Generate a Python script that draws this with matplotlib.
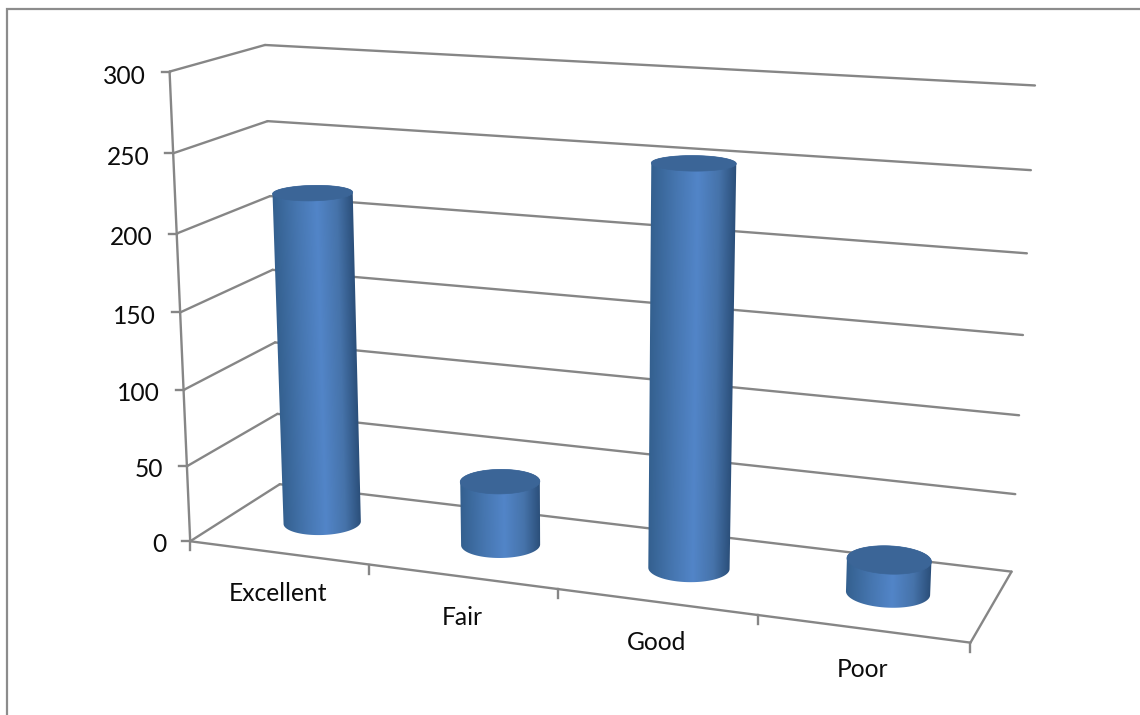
import numpy as np
import matplotlib
matplotlib.use("Agg")
import matplotlib.pyplot as plt
from matplotlib.colors import to_rgb
from matplotlib.patches import Polygon

categories = ["Excellent", "Fair", "Good", "Poor"]
values = [218, 42, 253, 21]
y_ticks = [0, 50, 100, 150, 200, 250, 300]

plt.rcParams["font.family"] = ["Lato", "DejaVu Sans"]
W, H = 1140, 715
fig = plt.figure(figsize=(W / 100, H / 100), dpi=100)
ax = fig.add_axes([0, 0, 1, 1])

# Camera of the 3D box: (category position, value, depth) -> image position
box = [
    (0, 0, 0, 192, 540), (1, 0, 0, 370, 564), (2, 0, 0, 558, 590), (3, 0, 0, 758, 617), (4, 0, 0, 970, 644),
    (0, 300, 0, 168, 72), (0, 250, 0, 172, 154), (0, 200, 0, 176, 233), (0, 150, 0, 180, 312),
    (0, 100, 0, 184, 389), (0, 50, 0, 188, 465),
    (0, 300, 1, 267, 45), (0, 250, 1, 268, 121), (0, 0, 1, 277, 487),
    (4, 300, 1, 1035, 86), (4, 250, 1, 1031, 170), (4, 200, 1, 1027, 254), (4, 150, 1, 1023, 335),
    (4, 100, 1, 1019, 414), (4, 50, 1, 1015, 493), (4, 0, 1, 1012, 570),
]
A, b = [], []
for cx, cy, cz, u, v in box:
    Y = cy / 300
    A.append([cx, Y, cz, 1, 0, 0, 0, 0, -u * cx, -u * Y, -u * cz]); b.append(u)
    A.append([0, 0, 0, 0, cx, Y, cz, 1, -v * cx, -v * Y, -v * cz]); b.append(v)
P = np.linalg.lstsq(np.array(A, float), np.array(b, float), rcond=None)[0]


def project(x, y, z):
    x, y, z = np.broadcast_arrays(np.asarray(x, float), np.asarray(y, float) / 300, np.asarray(z, float))
    w = P[8] * x + P[9] * y + P[10] * z + 1
    return (P[0] * x + P[1] * y + P[2] * z + P[3]) / w, (P[4] * x + P[5] * y + P[6] * z + P[7]) / w


def hull(points):
    pts = sorted(set(map(tuple, points)))
    def half(seq):
        out = []
        for p in seq:
            while len(out) > 1 and ((out[-1][0] - out[-2][0]) * (p[1] - out[-2][1])
                                    - (out[-1][1] - out[-2][1]) * (p[0] - out[-2][0])) <= 0:
                out.pop()
            out.append(p)
        return out[:-1]
    return half(pts) + half(pts[::-1])


GRID = "#868686"
TEXT = "#0c0c0c"
LW = 1.7


def seg(a, c):
    u, v = project([a[0], c[0]], [a[1], c[1]], [a[2], c[2]])
    ax.plot(u, v, color=GRID, lw=LW, solid_capstyle="round", zorder=2)


n = len(categories)
for t in y_ticks:
    seg((0, t, 0), (0, t, 1))
    seg((0, t, 1), (n, t, 1))
    u, v = project(0, t, 0)
    ax.plot([u - 8, u], [v, v], color=GRID, lw=LW, zorder=2)
    ax.text(u - 24, v + 2 * t / 300 + 1, str(t), ha="right", va="center_baseline", fontsize=17.7, color=TEXT)
seg((0, 0, 0), (0, 300, 0))
seg((0, 0, 0), (n, 0, 0))
seg((n, 0, 0), (n, 0, 1))
for k in range(n + 1):
    u, v = project(k, 0, 0)
    ax.plot([u, u], [v, v + 9], color=GRID, lw=LW, zorder=2)
for k, name in enumerate(categories):
    u, v = project(k + 0.5, 0, 0)
    ax.text(u, v + 41, name, ha="center", va="center", fontsize=17.7, color=TEXT)

# Cylinders
RX, RZ = 0.2, 0.2
stops = np.array([0, 0.3, 0.55, 0.8, 1.0])
cols = np.array([to_rgb(c) for c in ["#34608f", "#4676b0", "#5285c8", "#4673aa", "#2b4f7a"]])
TOP = "#3b6597"
ang = np.linspace(0, 2 * np.pi, 181)
for k, val in enumerate(values):
    cx = k + 0.5 + RX * np.cos(ang)
    cz = 0.5 + RZ * np.sin(ang)
    ub, vb = project(cx, 0, cz)
    ut, vt = project(cx, val, cz)
    outline = hull(np.column_stack([np.r_[ub, ut], np.r_[vb, vt]]))
    x0, x1 = int(min(ub.min(), ut.min())) - 1, int(max(ub.max(), ut.max())) + 2
    y0, y1 = int(vt.min()) - 1, int(vb.max()) + 2
    rows = np.arange(y0, y1) + 0.5
    frac = np.clip((rows - vt.mean()) / max(vb.mean() - vt.mean(), 1), 0, 1)
    left = ut.min() + (ub.min() - ut.min()) * frac
    right = ut.max() + (ub.max() - ut.max()) * frac
    xs = np.arange(x0, x1) + 0.5
    s = np.clip((xs[None, :] - left[:, None]) / (right - left)[:, None], 0, 1)
    img = np.dstack([np.interp(s, stops, cols[:, c]) for c in range(3)])
    im = ax.imshow(img, extent=(x0, x1, y1, y0), origin="upper", aspect="auto", zorder=3, interpolation="bilinear")
    patch = Polygon(outline, closed=True, transform=ax.transData, fc="none", ec="none")
    ax.add_patch(patch)
    im.set_clip_path(patch)
    ax.fill(ut, vt, color=TOP, lw=0.5, zorder=4)

# Chart frame
ax.plot([7, 7, W], [H, 9, 9], color="#8c8c8c", lw=1.6, zorder=5, solid_joinstyle="miter")

ax.set_xlim(0, W)
ax.set_ylim(H, 0)
ax.axis("off")
fig.savefig("out.png", dpi=100)
